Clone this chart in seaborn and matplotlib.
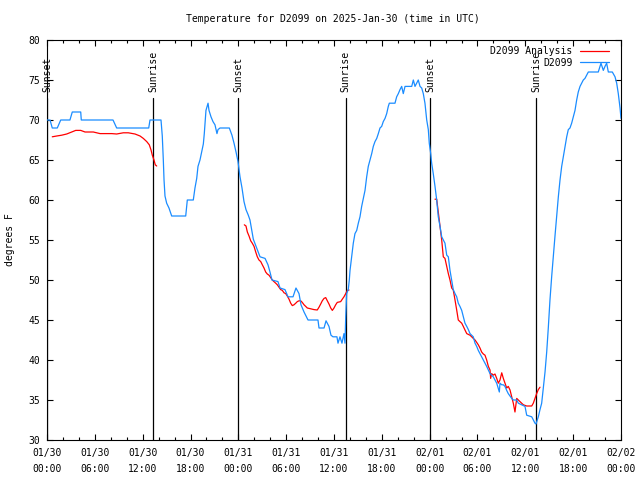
import matplotlib
matplotlib.use("Agg")
import matplotlib.pyplot as plt
import seaborn as sns
import pandas as pd
from matplotlib.lines import Line2D
from matplotlib.ticker import MultipleLocator

# ---------------- data (hours since 2025-01-30 00:00 UTC, degrees F) ----------------
title_text = "Temperature for D2099 on 2025-Jan-30 (time in UTC)"
series_names = ["D2099 Analysis", "D2099"]

blue_obs = [
    (0.00, 70), (0.38, 70), (0.66, 69), (1.29, 69), (1.72, 70), (2.88, 70), (3.17, 71), (4.23, 71),
    (4.30, 70), (8.28, 70), (8.74, 69), (12.76, 69), (12.92, 70), (14.30, 70), (14.46, 68), (14.59, 65),
    (14.68, 62.5), (14.80, 60.5), (15.01, 59.6), (15.30, 59), (15.64, 58), (17.40, 58), (17.60, 60),
    (18.35, 60), (18.56, 61.5), (18.78, 62.7), (18.94, 64.2), (19.19, 65), (19.40, 66), (19.61, 67),
    (19.73, 68.3), (19.86, 70), (19.94, 71.2), (20.20, 72.1), (20.32, 71.2), (20.57, 70.4), (20.82, 69.8),
    (21.07, 69.4), (21.32, 68.3), (21.45, 68.8), (21.70, 69), (22.87, 69), (23.20, 68.1), (23.46, 67.1),
    (23.71, 66), (23.96, 64.8), (24.21, 62.9), (24.46, 61.5), (24.71, 59.8), (24.96, 58.8), (25.25, 58.1),
    (25.46, 57.5), (25.68, 56.2), (25.88, 55.1), (26.30, 54), (26.72, 52.9), (27.35, 52.7), (27.72, 51.9),
    (27.97, 51), (28.22, 50), (28.97, 49.8), (29.23, 49), (29.85, 48.8), (30.23, 47.9), (30.86, 47.9),
    (31.23, 49), (31.61, 48.3), (31.86, 46.9), (32.24, 46), (32.74, 45), (33.99, 45), (34.12, 44),
    (34.75, 44), (35.00, 44.9), (35.37, 44.2), (35.62, 43.1), (35.87, 42.9), (36.37, 42.9), (36.50, 42.1),
    (36.75, 42.9), (37.00, 42.1), (37.25, 43.3), (37.38, 42.1), (37.47, 45.4), (37.59, 48.3), (37.79, 48.8),
    (37.92, 50), (38.01, 51.2), (38.22, 52.9), (38.42, 54.6), (38.63, 55.8), (38.85, 56.2), (39.05, 57.1),
    (39.26, 57.9), (39.47, 59.2), (39.68, 60.2), (39.89, 61.2), (40.10, 62.9), (40.30, 64.2), (40.51, 65),
    (40.73, 65.8), (40.93, 66.7), (41.14, 67.3), (41.36, 67.7), (41.56, 68.3), (41.77, 69), (41.98, 69.2),
    (42.18, 69.8), (42.40, 70.2), (42.61, 70.8), (42.81, 71.7), (42.94, 72.1), (43.65, 72.1), (43.86, 72.9),
    (44.07, 73.3), (44.28, 73.8), (44.49, 74.2), (44.69, 73.3), (44.91, 74.2), (45.75, 74.2), (45.95, 75),
    (46.16, 74.2), (46.57, 75), (46.79, 74.2), (47.00, 74), (47.20, 73.3), (47.41, 72.1), (47.63, 70),
    (47.83, 68.8), (47.95, 67.1), (48.13, 65.8), (48.25, 64.6), (48.45, 63.3), (48.67, 61.7), (48.88, 60),
    (49.08, 57.9), (49.30, 56.7), (49.51, 55.4), (49.71, 55), (49.92, 54.6), (50.14, 53.1), (50.34, 52.9),
    (50.55, 51.2), (50.76, 50), (50.96, 48.8), (51.18, 48.3), (51.39, 47.9), (51.59, 47.1), (51.80, 46.7),
    (52.02, 46.2), (52.22, 45.4), (52.43, 44.6), (52.65, 44.2), (52.85, 43.8), (53.06, 43.3), (53.47, 42.9),
    (53.69, 42.1), (53.90, 41.7), (54.10, 41.2), (54.31, 40.8), (54.73, 40), (55.15, 39.2), (55.57, 38.3),
    (55.98, 37.9), (56.41, 37.1), (56.74, 36), (56.82, 37.1), (57.04, 36.9), (57.24, 36.9), (57.45, 36.7),
    (57.66, 36.2), (57.86, 35.8), (58.29, 35.2), (58.49, 35), (58.92, 35), (59.12, 34.6), (59.96, 34.2),
    (60.17, 33.1), (60.80, 32.9), (61.00, 32.5), (61.21, 32.1), (61.34, 32), (61.63, 32.9), (61.84, 33.8),
    (62.05, 34.6), (62.25, 36.5), (62.47, 38.5), (62.68, 41), (62.88, 44), (63.09, 47.5), (63.31, 50.5),
    (63.51, 53), (63.72, 55.5), (63.93, 58), (64.14, 60.4), (64.35, 62.5), (64.56, 64.2), (64.76, 65.4),
    (64.97, 66.7), (65.19, 67.9), (65.39, 68.8), (65.60, 69), (65.81, 69.6), (66.02, 70.4), (66.23, 71.2),
    (66.44, 72.5), (66.64, 73.5), (66.86, 74.2), (67.07, 74.6), (67.27, 75), (67.48, 75.2), (67.90, 76),
    (69.15, 76), (69.49, 77.1), (69.78, 76.2), (69.99, 76.7), (70.20, 77.1), (70.41, 76), (70.91, 76),
    (71.25, 75.4), (71.46, 74.6), (71.66, 73.3), (71.88, 71.5), (72.00, 70.2),
]

red_seg1 = [
    (0.66, 67.9), (1.22, 68), (1.84, 68.1), (2.47, 68.25), (3.10, 68.5), (3.60, 68.7), (4.23, 68.7),
    (4.77, 68.5), (5.81, 68.5), (6.65, 68.3), (8.12, 68.3), (8.74, 68.25), (9.57, 68.4), (10.20, 68.4),
    (11.04, 68.25), (11.67, 68), (12.08, 67.7), (12.51, 67.3), (12.83, 66.9), (13.05, 66.25), (13.21, 65.6),
    (13.42, 65), (13.58, 64.4), (13.76, 64.25),
]
red_seg2 = [
    (24.75, 56.9), (24.96, 56.75), (25.13, 56), (25.34, 55.5), (25.55, 54.9), (25.75, 54.6), (25.97, 54.2),
    (26.18, 53.5), (26.38, 52.9), (26.59, 52.5), (26.81, 52.3), (27.01, 51.9), (27.22, 51.5), (27.43, 51),
    (27.63, 50.75), (27.85, 50.6), (28.06, 50.3), (28.26, 50), (28.47, 49.8), (28.69, 49.6), (28.89, 49.4),
    (29.10, 49.1), (29.31, 48.8), (29.52, 48.7), (29.73, 48.4), (29.94, 48.3), (30.14, 48), (30.36, 47.6),
    (30.57, 47.1), (30.77, 46.8), (30.98, 46.9), (31.20, 47.1), (31.40, 47.3), (31.61, 47.4), (31.82, 47.4),
    (32.02, 47.2), (32.24, 46.9), (32.45, 46.7), (32.65, 46.5), (33.08, 46.4), (33.49, 46.3), (33.90, 46.25),
    (34.12, 46.6), (34.33, 47), (34.53, 47.4), (34.75, 47.7), (34.96, 47.8), (35.16, 47.4), (35.37, 47),
    (35.59, 46.5), (35.79, 46.2), (36.00, 46.5), (36.21, 46.9), (36.41, 47.2), (36.63, 47.25), (36.84, 47.3),
    (37.04, 47.6), (37.25, 47.9), (37.47, 48.3), (37.67, 48.7), (37.88, 48.75),
]
red_seg3 = [
    (48.67, 60.1), (48.88, 60.1), (49.08, 58.5), (49.30, 56.7), (49.51, 55), (49.71, 52.9), (49.92, 52.7),
    (50.14, 51.7), (50.34, 50.8), (50.55, 50), (50.76, 49), (50.96, 48.75), (51.18, 47.5), (51.39, 46.25),
    (51.59, 45), (51.80, 44.8), (52.02, 44.6), (52.22, 44.2), (52.43, 43.75), (52.65, 43.3), (52.85, 43.2),
    (53.06, 43.1), (53.27, 42.9), (53.47, 42.7), (53.69, 42.5), (53.90, 42.2), (54.10, 41.9), (54.31, 41.5),
    (54.52, 41), (54.73, 40.75), (54.94, 40.6), (55.15, 40), (55.36, 39.2), (55.57, 38.75), (55.65, 37.7),
    (55.78, 38.3), (55.98, 38.1), (56.19, 38.25), (56.41, 37.7), (56.61, 37.1), (56.82, 37.5), (57.04, 38.4),
    (57.24, 37.7), (57.45, 37.1), (57.66, 36.5), (57.86, 36.7), (58.08, 36.25), (58.29, 35.4), (58.49, 34.6),
    (58.70, 33.5), (58.92, 35.2), (59.12, 35), (59.33, 34.8), (59.75, 34.4), (60.17, 34.25), (60.80, 34.25),
    (61.00, 34.6), (61.21, 35.2), (61.42, 35.8), (61.63, 36.3), (61.84, 36.6),
]

event_hours = [0.0, 13.3, 23.96, 37.45, 48.04, 61.34]
event_labels = ["Sunset", "Sunrise", "Sunset", "Sunrise", "Sunset", "Sunrise"]

tick_hours = [0, 6, 12, 18, 24, 30, 36, 42, 48, 54, 60, 66, 72]
tick_labels = ["01/30\n00:00", "01/30\n06:00", "01/30\n12:00", "01/30\n18:00",
               "01/31\n00:00", "01/31\n06:00", "01/31\n12:00", "01/31\n18:00",
               "02/01\n00:00", "02/01\n06:00", "02/01\n12:00", "02/01\n18:00",
               "02/02\n00:00"]
y_ticks = [30, 35, 40, 45, 50, 55, 60, 65, 70, 75, 80]

# ---------------- build frames ----------------
blue_df = pd.DataFrame(blue_obs, columns=["hour", "temp"])
red_parts = []
for i, seg in enumerate([red_seg1, red_seg2, red_seg3]):
    d = pd.DataFrame(seg, columns=["hour", "temp"])
    d["seg"] = i
    red_parts.append(d)
red_df = pd.concat(red_parts, ignore_index=True)

# ---------------- style ----------------
sns.set_style("ticks")
FS = 7.0
plt.rcParams["font.family"] = ["DejaVu Sans Mono", "DejaVu Sans"]
plt.rcParams["text.color"] = "black"
plt.rcParams["axes.labelcolor"] = "black"
plt.rcParams["xtick.color"] = "black"
plt.rcParams["ytick.color"] = "black"
plt.rcParams["axes.edgecolor"] = "black"

BLUE = "#1a8cff"
RED = "#ff0000"

fig = plt.figure(figsize=(6.4, 4.8), dpi=100)
ax = fig.add_axes([47 / 640, 40 / 480, 574 / 640, 400 / 480])

sns.lineplot(data=red_df, x="hour", y="temp", units="seg", estimator=None, sort=False,
             color=RED, lw=0.9, ax=ax, legend=False, zorder=3)
sns.lineplot(data=blue_df, x="hour", y="temp", estimator=None, sort=False,
             color=BLUE, lw=0.9, ax=ax, legend=False, zorder=4)

ax.set_xlim(0, 72)
ax.set_ylim(30, 80)

# sunrise / sunset markers
for h, lab in zip(event_hours, event_labels):
    ax.axvline(h, ymin=0, ymax=(72.75 - 30) / 50, color="black", lw=0.9, zorder=2)
    ax.text(h, 73.5, lab, rotation=90, ha="center", va="bottom", fontsize=FS,
            clip_on=False, zorder=5)

ax.set_xticks(tick_hours)
ax.set_xticklabels(tick_labels)
for lbl in ax.get_xticklabels():
    lbl.set_linespacing(1.85)
ax.xaxis.set_minor_locator(MultipleLocator(2))
ax.set_yticks(y_ticks)
ax.set_yticklabels([str(v) for v in y_ticks])

ax.tick_params(which="both", direction="in", top=True, right=True, bottom=True, left=True,
               labelsize=FS, width=0.8)
ax.tick_params(axis="x", which="major", length=4.5, pad=5.5)
ax.tick_params(axis="y", which="major", length=4.5, pad=5)
ax.tick_params(which="minor", length=2.5)
for s in ax.spines.values():
    s.set_linewidth(0.8)
    s.set_color("black")

ax.set_xlabel("")
ax.set_ylabel("degrees F", fontsize=FS)
ax.yaxis.set_label_coords((15.5 - 47) / 574, 0.5)
fig.text(333 / 640, 1 - 19 / 480, title_text, fontsize=FS, ha="center", va="center")

handles = [Line2D([], [], color=RED, lw=0.9), Line2D([], [], color=BLUE, lw=0.9)]
ax.legend(handles, series_names, loc="upper right", frameon=False, markerfirst=False,
          handlelength=2.9, handletextpad=0.8, fontsize=FS, labelspacing=0.15,
          borderaxespad=0.65, borderpad=0, bbox_to_anchor=(1 - 6 / 574, 1))

fig.savefig("out.png", dpi=100)
